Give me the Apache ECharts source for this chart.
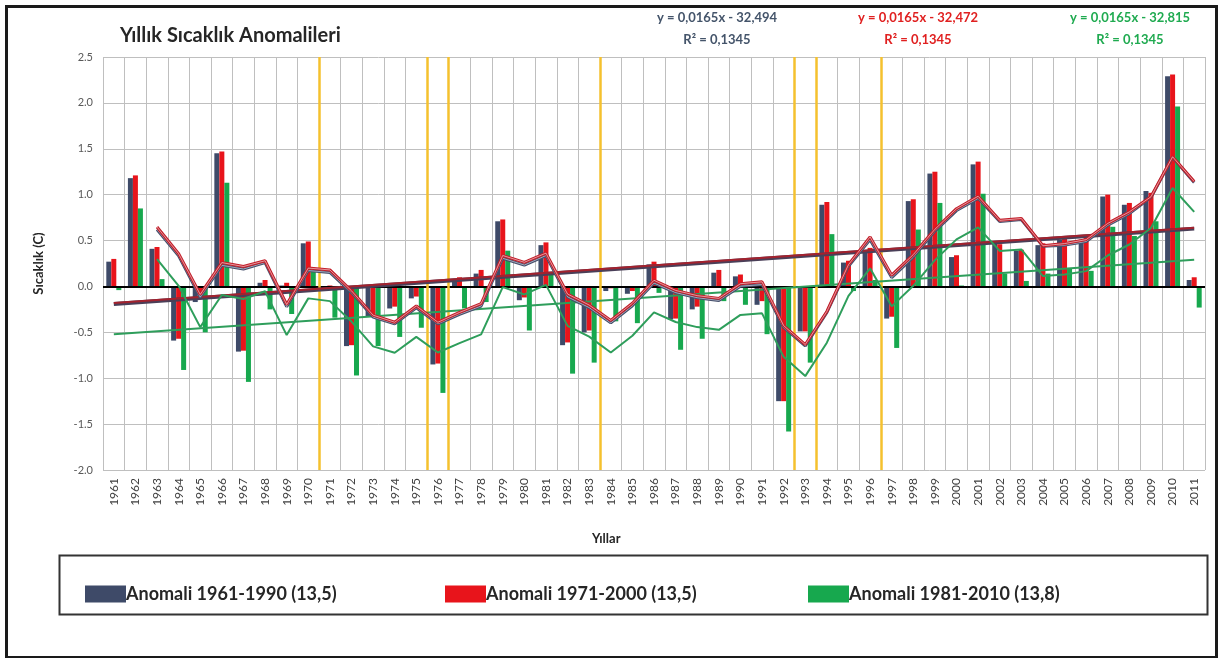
<!DOCTYPE html>
<html>
<head>
<meta charset="utf-8">
<script src="https://cdn.jsdelivr.net/npm/echarts@6/dist/echarts.min.js"></script>
<style>html,body{margin:0;padding:0;background:#fff}#c{width:1219px;height:658px}</style>
</head>
<body>
<div id="c"></div>
<script>
// ---- data ----
const years = ['1961','1962','1963','1964','1965','1966','1967','1968','1969','1970',
  '1971','1972','1973','1974','1975','1976','1977','1978','1979','1980',
  '1981','1982','1983','1984','1985','1986','1987','1988','1989','1990',
  '1991','1992','1993','1994','1995','1996','1997','1998','1999','2000',
  '2001','2002','2003','2004','2005','2006','2007','2008','2009','2010','2011'];

const anom6190 = [0.27, 1.18, 0.41, -0.59, -0.17, 1.45, -0.71, 0.04, 0.01, 0.47,
  -0.02, -0.65, -0.33, -0.24, -0.13, -0.85, 0.07, 0.14, 0.71, -0.15,
  0.45, -0.64, -0.50, -0.05, -0.08, 0.24, -0.36, -0.25, 0.15, 0.11,
  -0.20, -1.25, -0.49, 0.89, 0.26, 0.38, -0.35, 0.93, 1.23, 0.32,
  1.33, 0.47, 0.39, 0.45, 0.51, 0.51, 0.98, 0.89, 1.04, 2.29, 0.07];

const anom7100 = [0.30, 1.21, 0.43, -0.57, -0.12, 1.47, -0.70, 0.07, 0.04, 0.49,
  0.01, -0.64, -0.31, -0.22, -0.11, -0.84, 0.10, 0.18, 0.73, -0.12,
  0.48, -0.61, -0.48, -0.02, -0.05, 0.27, -0.35, -0.22, 0.18, 0.13,
  -0.16, -1.25, -0.49, 0.92, 0.28, 0.42, -0.33, 0.95, 1.25, 0.34,
  1.36, 0.46, 0.40, 0.47, 0.53, 0.53, 1.00, 0.91, 1.02, 2.31, 0.10];

const anom8110 = [-0.04, 0.85, 0.08, -0.91, -0.50, 1.13, -1.04, -0.25, -0.30, 0.16,
  -0.34, -0.97, -0.65, -0.55, -0.45, -1.16, -0.24, -0.17, 0.39, -0.48,
  0.14, -0.95, -0.83, -0.38, -0.40, -0.07, -0.69, -0.57, -0.16, -0.20,
  -0.52, -1.58, -0.83, 0.57, -0.05, 0.07, -0.67, 0.62, 0.91, 0.01,
  1.01, 0.14, 0.06, 0.14, 0.19, 0.17, 0.65, 0.55, 0.71, 1.96, -0.23];

// linear trend lines: values at first and last year
const trend6190 = [-0.19, 0.63];
const trend7100 = [-0.18, 0.64];
const trend8110 = [-0.52, 0.29];

// vertical marker lines, placed on the boundary after N categories
const markerBoundaries = [10, 15, 16, 23, 32, 33, 36];

const seriesNames = ['Anomali 1961-1990 (13,5)', 'Anomali 1971-2000 (13,5)', 'Anomali 1981-2010 (13,8)'];
const equations = [['y = 0,0165x - 32,494', 'R² = 0,1345'], ['y = 0,0165x - 32,472', 'R² = 0,1345'], ['y = 0,0165x - 32,815', 'R² = 0,1345']];
const yTicks = { min: -2.0, max: 2.5, interval: 0.5 };

// 3-year moving average trendline (as in the original chart's trendline)
function movingAvg(arr, n) {
  return arr.map((v, i) => {
    if (i < n - 1) return '-';
    let s = 0; for (let k = i - n + 1; k <= i; k++) s += arr[k];
    return +(s / n).toFixed(3);
  });
}

const C_NAVY = '#3E4A68', C_RED = '#E8141B', C_GREEN = '#17A84E';
const FONT = 'Lato';

const chart = echarts.init(document.getElementById('c'));
const first = years[0], last = years[years.length - 1];

const barCommon = { type: 'bar', barWidth: 5, barGap: '0%', z: 2 };

chart.setOption({
  backgroundColor: '#fff',
  animation: false,
  textStyle: { fontFamily: FONT },
  grid: { left: 103, right: 14, top: 57, bottom: 188, containLabel: false },
  legend: [0, 1, 2].map((i) => ({
    data: [seriesNames[i]],
    left: [80, 440, 803][i], top: 580,
    itemWidth: 41, itemHeight: 17, itemGap: 0,
    icon: 'rect',
    textStyle: { fontSize: 18, fontWeight: 'bold', color: '#262626', fontFamily: FONT, padding: [0, 0, 0, -5] }
  })),
  xAxis: [{
    type: 'category', data: years, boundaryGap: true,
    axisLine: { show: false }, axisTick: { show: false },
    axisLabel: { rotate: 90, fontSize: 12, color: '#404040', margin: 8, interval: 0, fontFamily: FONT },
    splitLine: { show: true, interval: 0, lineStyle: { color: '#BFBFBF', width: 1 } }
  }, {
    type: 'value', min: 0, max: years.length, show: false
  }],
  yAxis: {
    type: 'value', min: yTicks.min, max: yTicks.max, interval: yTicks.interval,
    name: 'Sıcaklık (C)', nameLocation: 'middle', nameGap: 58, nameRotate: 90,
    nameTextStyle: { fontSize: 13, fontWeight: 'bold', color: '#262626', fontFamily: FONT },
    axisLine: { show: false }, axisTick: { show: false },
    axisLabel: { fontSize: 11, color: '#595959', margin: 10, formatter: (v) => v.toFixed(1), fontFamily: FONT },
    splitLine: { lineStyle: { color: '#BFBFBF', width: 1 } }
  },
  series: [
    Object.assign({}, barCommon, { name: seriesNames[0], data: anom6190, itemStyle: { color: C_NAVY },
      markLine: { silent: true, symbol: 'none', label: { show: false },
        lineStyle: { color: '#000', width: 2, type: 'solid' }, data: [{ yAxis: 0 }] } }),
    Object.assign({}, barCommon, { name: seriesNames[1], data: anom7100, itemStyle: { color: C_RED } }),
    Object.assign({}, barCommon, { name: seriesNames[2], data: anom8110, itemStyle: { color: C_GREEN } }),
    // linear trends
    { type: 'line', name: 'trend1', data: [[first, trend6190[0]], [last, trend6190[1]]], symbol: 'none', z: 5,
      lineStyle: { color: '#4A3F58', width: 4 } },
    { type: 'line', name: 'trend2', data: [[first, trend7100[0]], [last, trend7100[1]]], symbol: 'none', z: 6,
      lineStyle: { color: '#A3222E', width: 2 } },
    { type: 'line', name: 'trend3', data: [[first, trend8110[0]], [last, trend8110[1]]], symbol: 'none', z: 5,
      lineStyle: { color: '#2E9E5B', width: 2 } },
    // moving averages
    { type: 'line', name: 'ma3', data: movingAvg(anom8110, 3), symbol: 'none', z: 6,
      lineStyle: { color: '#2E9E5B', width: 2 } },
    { type: 'line', name: 'ma1', data: movingAvg(anom6190, 3), symbol: 'none', z: 7,
      lineStyle: { color: '#46506C', width: 3 } },
    { type: 'line', name: 'ma1in', data: movingAvg(anom6190, 3), symbol: 'none', z: 7,
      lineStyle: { color: 'rgba(235,238,250,0.7)', width: 0.8 } },
    { type: 'line', name: 'ma2', data: movingAvg(anom7100, 3), symbol: 'none', z: 8,
      lineStyle: { color: '#C21E2A', width: 3 } },
    { type: 'line', name: 'ma2in', data: movingAvg(anom7100, 3), symbol: 'none', z: 9,
      lineStyle: { color: 'rgba(255,235,235,0.75)', width: 0.8 } },
    // vertical markers
    { type: 'line', name: 'markers', xAxisIndex: 1, data: [[0, null]], symbol: 'none', z: 10,
      markLine: { silent: true, symbol: 'none', label: { show: false },
        lineStyle: { color: '#F5C12E', width: 2.5, type: 'solid' },
        data: markerBoundaries.map((b) => ({ xAxis: b })) } }
  ],
  graphic: [
    { type: 'rect', left: 4, top: 4, shape: { width: 1210, height: 651 }, style: { fill: 'none', stroke: '#1a1a1a', lineWidth: 3 }, z: 100 },
    { type: 'rect', left: 57, top: 553, shape: { width: 1148, height: 59 }, style: { fill: 'none', stroke: '#333', lineWidth: 2 }, z: 100 },
    { type: 'text', left: 120, top: 26, style: { text: 'Yıllık Sıcaklık Anomalileri', fontSize: 20, fontWeight: 'bold', fill: '#262626', fontFamily: FONT } },
    { type: 'text', left: 592, top: 532, style: { text: 'Yıllar', fontSize: 13, fontWeight: 'bold', fill: '#262626', fontFamily: FONT } }
  ].concat([0, 1, 2].flatMap((i) => {
    const cx = [717, 918, 1130][i];
    const col = ['#44546A', '#E02020', '#1FAA50'][i];
    return [
      { type: 'text', x: cx, y: 11, style: { text: equations[i][0], fontSize: 13, fontWeight: 'bold', fill: col, textAlign: 'center', fontFamily: FONT } },
      { type: 'text', x: cx, y: 33, style: { text: equations[i][1], fontSize: 13, fontWeight: 'bold', fill: col, textAlign: 'center', fontFamily: FONT } }
    ];
  }))
});
</script>
</body>
</html>
